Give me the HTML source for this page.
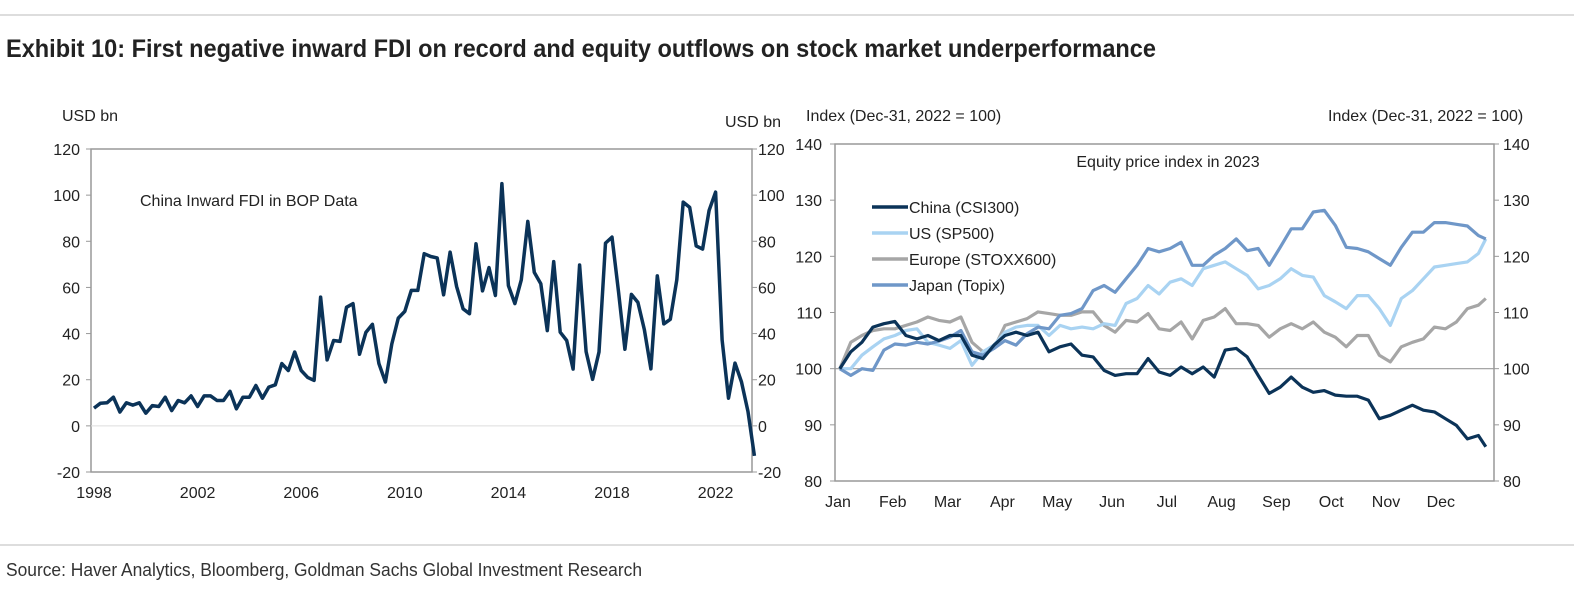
<!DOCTYPE html>
<html><head><meta charset="utf-8"><style>
body{margin:0;background:#fff;width:1574px;height:584px;overflow:hidden;font-family:"Liberation Sans",sans-serif}
svg text{font-family:"Liberation Sans",sans-serif}
</style></head><body>
<svg id="c" width="1574" height="584" xmlns="http://www.w3.org/2000/svg">
<line x1="0" y1="15" x2="1574" y2="15" stroke="#bbb"/>
<text x="6" y="57" font-size="25" font-weight="bold" fill="#222" textLength="1150" lengthAdjust="spacingAndGlyphs" style="font-family:'Liberation Sans Narrow','Liberation Sans',sans-serif">Exhibit 10: First negative inward FDI on record and equity outflows on stock market underperformance</text>
<line x1="0" y1="545" x2="1574" y2="545" stroke="#bbb"/>
<text x="6" y="576" font-size="18" fill="#333" textLength="636" lengthAdjust="spacingAndGlyphs" style="font-family:'Liberation Sans Narrow','Liberation Sans',sans-serif">Source: Haver Analytics, Bloomberg, Goldman Sachs Global Investment Research</text>
<g id="left"></g>
<g id="right"></g>
</svg>
<script>
const NS="http://www.w3.org/2000/svg";
function mk(p,t,a,txt){const e=document.createElementNS(NS,t);for(const k in a)e.setAttribute(k,a[k]);if(txt!==undefined)e.textContent=txt;p.appendChild(e);return e;}

// ---- Left chart data ----
const fdiStartYear=1998;
const fdiValues=[7.7,9.8,10,12.4,6,10,9,10,5.5,8.8,8.4,12.4,6.6,11,10,13,8.4,13,13,11,11,15,7.4,12.4,12.4,17.5,12,16.8,17.8,27,24,32,24,21,19.7,55.8,28.6,37,36.6,51.4,53,31,40.5,44,27,19,35.5,46.7,49.6,58.7,58.7,74.6,73.4,72.8,56.8,75.3,60.4,50.7,48.6,78.9,58.5,68.6,56.5,105,60.8,53,63.3,88.6,66.5,61.6,41.3,71.2,40.6,37,24.6,69.7,32.2,20.2,32,79.2,81.8,58.2,33.2,57,53.5,41.6,24.7,65,44.2,46.2,63.3,97,94.7,78,76.6,93.4,101.3,37.3,12,27.2,19,6.2,-13];
const fdiTicks=[-20,0,20,40,60,80,100,120];
const fdiYearLabels=[1998,2002,2006,2010,2014,2018,2022];

const L=document.getElementById('left');
const lx0=91,lx1=752,ly0=149,ly1=472;
const ly=v=>ly1-(v+20)/140*(ly1-ly0);
const lxYear=t=>94+(t-fdiStartYear)*25.9;
let e;
e=mk(L,'rect',{x:lx0,y:ly0,width:lx1-lx0,height:ly1-ly0,fill:'none',stroke:'#999','stroke-width':1.5});

e=mk(L,'line',{x1:lx0,x2:lx1,y1:ly(0),y2:ly(0),stroke:'#ddd','stroke-width':1});

fdiTicks.forEach(v=>{
  e=mk(L,'text',{x:80,y:ly(v)+6,'font-size':16,'text-anchor':'end',fill:'#222'},v);
  
  e=mk(L,'text',{x:758,y:ly(v)+6,'font-size':16,fill:'#222'},v);
  
  mk(L,'line',{x1:lx0-5,x2:lx0,y1:ly(v),y2:ly(v),stroke:'#999'});
  mk(L,'line',{x1:lx1,x2:lx1+5,y1:ly(v),y2:ly(v),stroke:'#999'});
});
fdiYearLabels.forEach(y=>{
  e=mk(L,'text',{x:lxYear(y),y:498,'font-size':16,'text-anchor':'middle',fill:'#222'},y);
  
});
e=mk(L,'text',{x:62,y:121,'font-size':16,fill:'#222'},'USD bn');

e=mk(L,'text',{x:725,y:127,'font-size':16,fill:'#222'},'USD bn');

e=mk(L,'text',{x:140,y:206,'font-size':16,fill:'#222'},'China Inward FDI in BOP Data');

e=mk(L,'polyline',{points:fdiValues.map((v,i)=>lxYear(fdiStartYear+i*0.25).toFixed(1)+','+ly(v).toFixed(1)).join(' '),fill:'none',stroke:'#0b3358','stroke-width':3.5,'stroke-linejoin':'round'});


// ---- Right chart data ----
const eqDays=[1,7,13,19,25,31,37,43,49,55,61,67,73,79,85,91,97,103,109,115,121,127,133,139,145,151,157,163,169,175,181,187,193,199,205,211,217,223,229,235,241,247,253,259,265,271,277,283,289,295,301,307,313,319,325,331,337,343,349,353];
const chinaVals=[100,103,104.7,107.4,108,108.4,105.9,105.3,105.9,105,105.9,105.9,102.4,101.8,104.2,105.9,106.5,105.9,106.5,103,103.9,104.4,102.4,102.1,99.7,98.8,99.1,99.1,101.8,99.4,98.8,100.3,99.1,100.3,98.5,103.3,103.6,102.1,98.8,95.6,96.7,98.5,96.7,95.8,96.1,95.3,95.1,95.1,94.4,91.1,91.7,92.6,93.5,92.6,92.3,91.1,89.9,87.5,88.1,86.1];
const usVals=[100,100,102.4,103.9,105.3,105.9,106.8,107.1,104.7,104.2,103.6,105,100.6,103,104.2,106.5,107.4,107.7,107.7,105.9,107.7,107.1,107.4,107.1,108,107.7,111.6,112.5,114.8,113.3,115.4,116,114.8,117.8,118.4,119,117.8,116.6,114.2,114.8,116,117.8,116.6,116.3,113,111.9,110.7,113,113,110.7,107.7,112.5,113.9,116,118.1,118.4,118.7,119,120.5,123.1];
const europeVals=[100,104.7,105.9,106.8,107.1,107.1,107.7,108.3,109.2,108.6,108.3,109.2,104.7,103,103.6,107.7,108.3,108.9,110.1,109.8,109.5,109.5,110.1,110.1,107.7,106.5,108.6,108.3,109.8,107.1,106.8,108.3,105.3,108.6,109.2,110.7,108,108,107.7,105.6,107.1,108,107.1,108.3,106.5,105.6,103.9,105.9,105.9,102.4,101.2,103.9,104.7,105.3,107.4,107.1,108.3,110.7,111.3,112.5];
const japanVals=[100,98.8,100,99.7,103.3,104.4,104.2,104.7,104.4,104.9,105.6,106.8,103,102.4,103.6,105,104.2,106.2,107.4,107.1,109.5,109.8,110.7,113.9,114.8,113.6,116,118.4,121.4,120.8,121.4,122.5,118.4,118.4,120.2,121.4,123.1,121,121.4,118.4,121.6,124.9,124.9,127.9,128.2,125.5,121.6,121.4,120.8,119.6,118.4,121.6,124.3,124.3,126,126,125.7,125.4,123.7,123.1];
const eqTicks=[80,90,100,110,120,130,140];
const monthLabels=['Jan','Feb','Mar','Apr','May','Jun','Jul','Aug','Sep','Oct','Nov','Dec'];
const seriesNames=['China (CSI300)','US (SP500)','Europe (STOXX600)','Japan (Topix)'];

const R=document.getElementById('right');
const rx0=835,rx1=1494,ry0=144,ry1=481;
const ry=v=>ry1-(v-80)/60*(ry1-ry0);
const rx=d=>838+d*1.835;
e=mk(R,'rect',{x:rx0,y:ry0,width:rx1-rx0,height:ry1-ry0,fill:'none',stroke:'#999','stroke-width':1.5});

e=mk(R,'line',{x1:rx0,x2:rx1,y1:ry(100),y2:ry(100),stroke:'#999','stroke-width':1.2});

eqTicks.forEach(v=>{
  e=mk(R,'text',{x:822,y:ry(v)+6,'font-size':16,'text-anchor':'end',fill:'#222'},v);
  
  e=mk(R,'text',{x:1503,y:ry(v)+6,'font-size':16,fill:'#222'},v);
  
  mk(R,'line',{x1:rx0-5,x2:rx0,y1:ry(v),y2:ry(v),stroke:'#999'});
  mk(R,'line',{x1:rx1,x2:rx1+5,y1:ry(v),y2:ry(v),stroke:'#999'});
});
monthLabels.forEach((m,i)=>{
  e=mk(R,'text',{x:838+i*54.8,y:507,'font-size':16,'text-anchor':'middle',fill:'#222'},m);
  
});
e=mk(R,'text',{x:806,y:121,'font-size':16,fill:'#222'},'Index (Dec-31, 2022 = 100)');

e=mk(R,'text',{x:1328,y:121,'font-size':16,fill:'#222'},'Index (Dec-31, 2022 = 100)');

e=mk(R,'text',{x:1168,y:167,'font-size':16,'text-anchor':'middle',fill:'#222'},'Equity price index in 2023');

const colors=['#0b3358','#a9d3f2','#a6a6a6','#6f97c8'];
const allVals=[chinaVals,usVals,europeVals,japanVals];
const drawOrder=[2,1,3,0];
drawOrder.forEach(k=>{
  e=mk(R,'polyline',{points:allVals[k].map((v,i)=>rx(eqDays[i]).toFixed(1)+','+ry(v).toFixed(1)).join(' '),fill:'none',stroke:colors[k],'stroke-width':3.2,'stroke-linejoin':'round'});
  
});
seriesNames.forEach((n,i)=>{
  const y=207+i*26;
  e=mk(R,'line',{x1:872,x2:908,y1:y,y2:y,stroke:colors[i],'stroke-width':3.5});
  
  e=mk(R,'text',{x:909,y:y+6,'font-size':16,fill:'#222'},n);
  
});
</script>
</body></html>
